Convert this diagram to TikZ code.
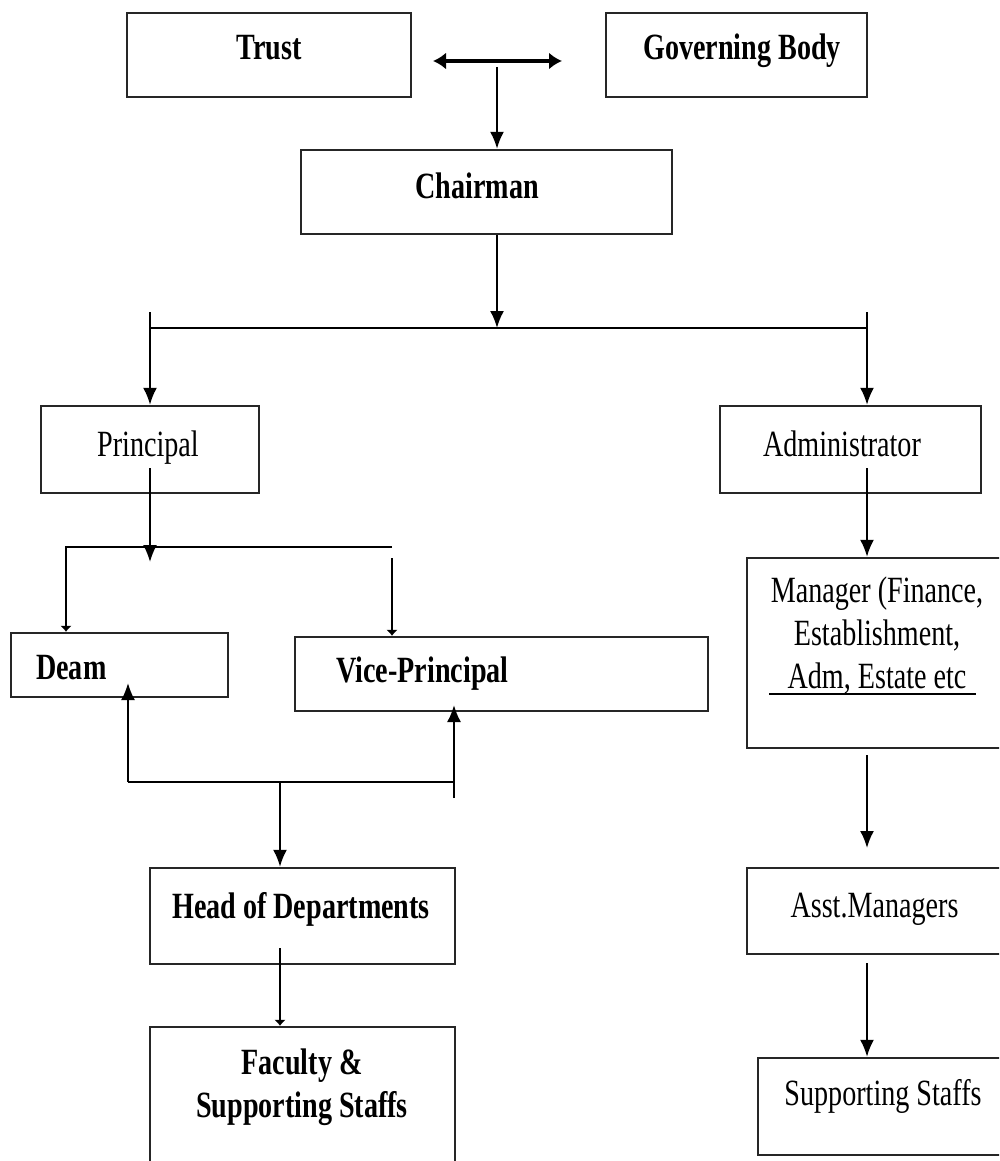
\documentclass[tikz,border=0pt]{standalone}
\usepackage{fontspec}
\setmainfont{Liberation Serif}[FakeStretch=0.76]
\usetikzlibrary{arrows.meta}

\begin{document}
\begin{tikzpicture}[x=1pt,y=-1pt,
    box/.style={draw=black!85,line width=2.4pt,inner sep=0pt},
    txt/.style={inner sep=0pt,anchor=base,align=center,font=\fontsize{37}{43}\selectfont},
    bf/.style={txt,font=\fontsize{37}{43}\selectfont\bfseries},
    conn/.style={line width=2pt},
    arr/.style={conn,-{Latex[length=17pt,width=14pt]}},
    tip/.style={conn,-{Latex[length=6pt,width=12pt]}}]
    \clip (0,0) rectangle (999,1161);
    \fill[white] (0,0) rectangle (999,1161);

    \node[box,minimum width=284pt,minimum height=84pt] (trust) at (269,55) {};
    \node[box,minimum width=261pt,minimum height=84pt] (gov) at (736.5,55) {};
    \node[box,minimum width=371pt,minimum height=84pt] (chair) at (486.5,192) {};
    \node[box,minimum width=218pt,minimum height=87pt] (principal) at (150,449.5) {};
    \node[box,minimum width=261pt,minimum height=87pt] (admin) at (850.5,449.5) {};
    \node[box,minimum width=217pt,minimum height=64pt] (deam) at (119.5,665) {};
    \node[box,minimum width=413pt,minimum height=74pt] (vp) at (501.5,674) {};
    \node[box,minimum width=273pt,minimum height=190pt] (man) at (883.5,653) {};
    \node[box,minimum width=305pt,minimum height=96pt] (hod) at (302.5,916) {};
    \node[box,minimum width=305pt,minimum height=173pt] (fac) at (302.5,1113.5) {};
    \node[box,minimum width=273pt,minimum height=86pt] (asst) at (883.5,911) {};
    \node[box,minimum width=262pt,minimum height=97pt] (supp) at (889,1106.5) {};

    \node[bf] (trust-t) at (269,60) {Trust};
    \node[bf] (gov-t) at (742,60) {Governing Body};
    \node[bf] (chair-t) at (477,198) {Chairman};
    \node[txt] (principal-t) at (148,456) {Principal};
    \node[txt] (admin-t) at (842,456) {Administrator};
    \node[bf,anchor=base west] (deam-t) at (36,679) {Deam};
    \node[bf,anchor=base west] (vp-t) at (336,682) {Vice-Principal};
    \node[txt] (man-t) at (877,688) {Manager (Finance,\\Establishment,\\Adm, Estate etc};
    \node[bf] (hod-t) at (301,918) {Head of Departments};
    \node[bf] (fac-t) at (302,1117) {Faculty \&\\Supporting Staffs};
    \node[txt] (asst-t) at (874.5,917) {Asst.Managers};
    \node[txt] (supp-t) at (883,1105) {Supporting Staffs};

    \coordinate (dl) at (433,61);
    \coordinate (dr) at (562,61);
    \coordinate (cj) at (497,67);
    \coordinate (mid) at (497,328);
    \coordinate (bl) at (150,312);
    \coordinate (br) at (867,312);
    \coordinate (p1) at (150,468);
    \coordinate (p2) at (150,562);
    \coordinate (dbar) at (66,547);
    \coordinate (vbar) at (392,547);
    \coordinate (vtop) at (392,558);
    \coordinate (dup) at (128,782);
    \coordinate (vup) at (454,798);
    \coordinate (dtip) at (128,683);
    \coordinate (vtip) at (454,705);
    \coordinate (hj) at (280,782);
    \coordinate (h1) at (280,948);
    \coordinate (a1) at (867,468);
    \coordinate (m1) at (867,755);
    \coordinate (m2) at (867,848);
    \coordinate (s1) at (867,963);

    \draw[line width=4pt,{Latex[length=13pt,width=17pt]}-{Latex[length=13pt,width=17pt]}] (dl) -- (dr);
    \draw[arr] (cj) -- (cj |- chair.north);
    \draw[arr] (cj |- chair.south) -- (mid);
    \draw[conn] (bl |- mid) -- (br |- mid);
    \draw[arr] (bl) -- (principal.north);
    \draw[arr] (br) -- (br |- admin.north);

    \draw[arr] (p1) -- (p2);
    \draw[tip] (vbar) -- (dbar) -- (dbar |- deam.north);
    \draw[tip] (vtop) -- (vtop |- vp.north);

    \draw[conn] (dup) -- (vup |- dup);
    \draw[arr] (dup) -- (dtip);
    \draw[arr] (vup) -- (vtip);
    \draw[arr] (hj) -- (hj |- hod.north);
    \draw[tip] (h1) -- (h1 |- fac.north);

    \draw[arr] (a1) -- (a1 |- man.north);
    \draw[conn] (769,694) -- (976,694);
    \draw[arr] (m1) -- (m2);
    \draw[arr] (s1) -- (s1 |- supp.north);
\end{tikzpicture}
\end{document}
